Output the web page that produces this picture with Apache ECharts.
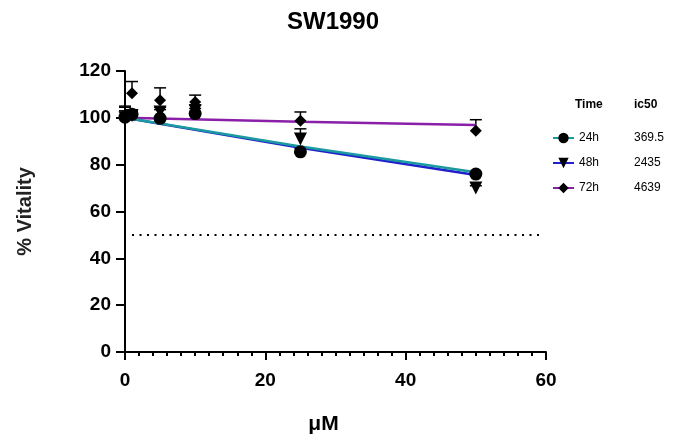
<!DOCTYPE html>
<html>
<head>
<meta charset="utf-8">
<script src="https://cdn.jsdelivr.net/npm/echarts@6/dist/echarts.min.js"></script>
<style>html,body{margin:0;padding:0;background:#fff}#c{width:679px;height:443px}</style>
</head>
<body>
<div id="c"></div>
<script>
// Concentrations (µM)
const doses = [0, 1, 5, 10, 25, 50];
// Mean vitality (%)
const v24 = [100.3, 101.5, 99.8, 101.8, 85.5, 76];
const v48 = [100, 101, 102.5, 103, 91, 70];
const v72 = [100.5, 110.5, 107.5, 106.8, 98.8, 94.5];
// Upper error bar ends (%)
const e24 = [104.5, 103, 103.5, 104, 87, 77];
const e48 = [103, 102.5, 104.5, 105.5, 95.3, 71];
const e72 = [105, 115.5, 112.8, 109.7, 102.5, 99.2];
// Fitted curves
const fitX = [0, 25, 50];
const fit24 = [100, 87.8, 76.8];
const fit48 = [100, 87.2, 75.6];
const fit72 = [100, 98.3, 96.9];
// Legend
const times = ['24h', '48h', '72h'];
const ic50 = ['369.5', '2435', '4639'];
// threshold
const threshX = [1, 59];
const threshY = 50;

const lineColors = ['#1B9AA0', '#2020CC', '#8A1FA8'];
const symbols = ['circle', 'triangle', 'diamond'];
const symRot = [0, 180, 0];
const symSize = [13, 13, 12];
const vals = [v24, v48, v72];
const errs = [e24, e48, e72];
const fits = [fit24, fit48, fit72];

const chart = echarts.init(document.getElementById('c'));
const series = [];

// threshold dotted line
series.push({
  type: 'line', name: 'threshold', silent: true, symbol: 'none',
  data: threshX.map(x => [x, threshY]),
  lineStyle: { color: '#000', width: 2, type: [2, 5.5] }, z: 1
});

// error bars
for (let i = 0; i < 3; i++) {
  series.push({
    type: 'custom', name: times[i] + ' err', silent: true, z: 2,
    data: doses.map((d, j) => [d, vals[i][j], errs[i][j]]),
    renderItem: function (params, api) {
      const p0 = api.coord([api.value(0), api.value(1)]);
      const p1 = api.coord([api.value(0), api.value(2)]);
      const hw = 6;
      return {
        type: 'group',
        children: [
          { type: 'line', shape: { x1: p0[0], y1: p0[1], x2: p1[0], y2: p1[1] }, style: { stroke: '#000', lineWidth: 1.5 } },
          { type: 'line', shape: { x1: p1[0] - hw, y1: p1[1], x2: p1[0] + hw, y2: p1[1] }, style: { stroke: '#000', lineWidth: 1.5 } }
        ]
      };
    }
  });
}

// fitted lines (legend carriers)
for (let i = 0; i < 3; i++) {
  series.push({
    type: 'line', name: times[i], z: 3 + (i === 0 ? 1 : 0),
    data: fitX.map((x, j) => [x, fits[i][j]]),
    symbol: symbols[i], symbolRotate: symRot[i], showSymbol: false,
    itemStyle: { color: '#000' },
    lineStyle: { color: lineColors[i], width: 2.5 }
  });
}

// data points
for (let i = 0; i < 3; i++) {
  series.push({
    type: 'scatter', name: times[i] + ' pts', z: 5,
    data: doses.map((d, j) => [d, vals[i][j]]),
    symbol: symbols[i], symbolRotate: symRot[i], symbolSize: symSize[i],
    itemStyle: { color: '#000', opacity: 1 }
  });
}

chart.setOption({
  animation: false,
  backgroundColor: '#fff',
  title: {
    text: 'SW1990', left: 282, top: 5,
    textStyle: { fontFamily: 'Liberation Sans', fontWeight: 'bold', fontSize: 24, color: '#000' }
  },
  grid: { left: 125, right: 133, top: 71, bottom: 91 },
  legend: {
    data: times.map((t, i) => ({ name: t })),
    orient: 'vertical', left: 547, top: 127, itemWidth: 21, itemHeight: 13, itemGap: 13,
    selectedMode: false,
    formatter: function (name) {
      const i = times.indexOf(name);
      return '{n|' + name + '}{v|' + ic50[i] + '}';
    },
    textStyle: {
      fontFamily: 'Liberation Sans', fontSize: 12, color: '#000',
      rich: { n: { width: 55, fontFamily: 'Liberation Sans', fontSize: 12, color: '#000' }, v: { fontFamily: 'Liberation Sans', fontSize: 12, color: '#000' } }
    }
  },
  graphic: [
    { type: 'text', left: 575, top: 99, style: { text: 'Time', font: 'bold 12px Liberation Sans', fill: '#000' } },
    { type: 'text', left: 634, top: 99, style: { text: 'ic50', font: 'bold 12px Liberation Sans', fill: '#000' } }
  ],
  xAxis: {
    type: 'value', min: 0, max: 60, interval: 20,
    name: 'μM', nameLocation: 'middle', nameGap: 62,
    nameTextStyle: { fontFamily: 'Liberation Sans', fontWeight: 'bold', fontSize: 21, color: '#000', padding: [0, 24, 0, 0] },
    axisLine: { lineStyle: { color: '#000', width: 2 } },
    axisTick: { show: true, length: 8, lineStyle: { color: '#000', width: 2 } },
    minorTick: { show: true, splitNumber: 10, length: 4, lineStyle: { color: '#000', width: 2 } },
    splitLine: { show: false },
    axisLabel: { fontFamily: 'Liberation Sans', fontWeight: 'bold', fontSize: 19, color: '#000', margin: 19 }
  },
  yAxis: {
    type: 'value', min: 0, max: 120, interval: 20,
    name: '% Vitality', nameLocation: 'middle', nameGap: 90, nameRotate: 90,
    nameTextStyle: { fontFamily: 'Liberation Sans', fontWeight: 'bold', fontSize: 20, color: '#222' },
    axisLine: { show: true, lineStyle: { color: '#000', width: 2 } },
    axisTick: { show: true, length: 9, lineStyle: { color: '#000', width: 2 } },
    splitLine: { show: false },
    axisLabel: { fontFamily: 'Liberation Sans', fontWeight: 'bold', fontSize: 19, color: '#000', margin: 14 }
  },
  series: series
});
</script>
</body>
</html>
